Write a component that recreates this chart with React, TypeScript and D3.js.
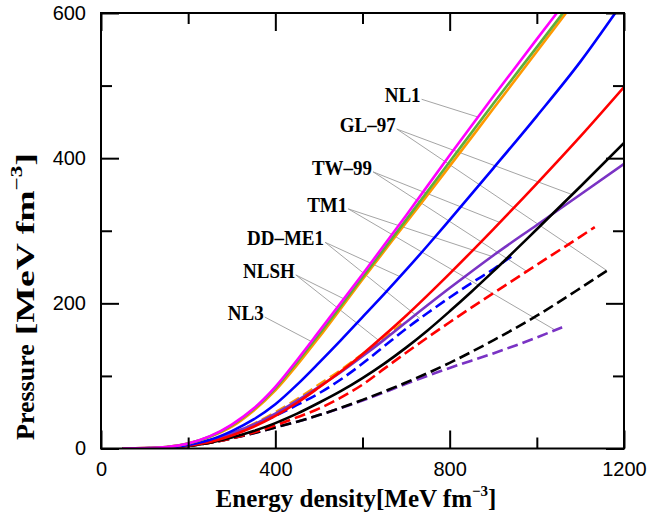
import React, { useEffect, useRef } from "react";
import * as d3 from "d3";

// ---- axis ticks ----
const xTicksMajor = [0, 400, 800, 1200];
const xTicksMinor = [200, 600, 1000];
const yTicksMajor = [0, 200, 400, 600];
const yTicksMinor = [100, 300, 500];

// ---- series (energy density, pressure) ----
const nl1E = [50, 100, 150, 200, 250, 300, 350, 400, 450, 500, 600, 700, 800, 900, 1000, 1046];
const nl1P = [0, 0.5, 2, 7, 17, 33, 55, 85, 122, 161, 240, 321, 404, 485, 564, 600];

const nl3E = [50, 100, 150, 200, 250, 300, 350, 400, 450, 500, 600, 700, 800, 900, 1000, 1060];
const nl3P = [0, 0.5, 2, 7, 16.5, 32, 54, 83, 119, 157, 236, 315, 395, 475, 553, 600];

const nlshE = [50, 100, 150, 200, 250, 300, 350, 400, 450, 500, 600, 700, 800, 900, 1000, 1067];
const nlshP = [0, 0.5, 2, 7, 16, 30, 52, 80, 115, 153, 233, 311, 389, 468, 547, 600];

const ddme1E = [50, 100, 150, 200, 250, 300, 350, 400, 450, 500, 550, 600, 650, 700, 750, 800, 900, 1000, 1100, 1180];
const ddme1P = [0, 0.3, 1.5, 5, 12, 24, 40, 61, 88, 118, 149, 181, 213, 246, 280, 315, 386, 458, 533, 600];

const tw99E = [50, 100, 150, 200, 250, 300, 350, 400, 450, 500, 550, 600, 650, 700, 800, 900, 1000, 1100, 1200];
const tw99P = [0, 0.2, 1, 4, 9, 18, 30, 45, 63, 84, 106, 130, 156, 183, 241, 302, 365, 430, 498];

const tm1E = [50, 100, 150, 200, 250, 300, 350, 400, 450, 500, 550, 600, 650, 700, 800, 900, 1000, 1100, 1200];
const tm1P = [0, 0.3, 1.5, 5, 11, 21, 33, 48, 66, 85, 105, 127, 150, 174, 221, 266, 308, 350, 392];

const gl97E = [50, 100, 150, 200, 250, 300, 350, 400, 450, 500, 550, 600, 650, 700, 750, 800, 850, 900, 1000, 1100, 1200];
const gl97P = [0, 0.2, 1, 3.5, 8, 15, 24, 35, 48, 63, 79, 97, 117, 139, 163, 189, 216, 244, 302, 361, 421];

// hyperon (dashed) branches
const ddme1hE = [50, 100, 150, 200, 250, 300, 350, 400, 450, 500, 550, 600, 650, 700, 750, 800, 850, 900, 945];
const ddme1hP = [0, 0.3, 1.5, 5, 11, 20, 31, 45, 60, 76, 95, 117, 141, 165, 187, 208, 228, 247, 266];

const tw99hE = [50, 100, 150, 200, 250, 300, 350, 400, 450, 500, 550, 600, 650, 700, 800, 900, 1000, 1100, 1133];
const tw99hP = [0, 0.2, 1, 4, 8, 14, 22, 32, 43, 55, 70, 88, 110, 132, 174, 214, 253, 292, 305];

const gl97hE = [50, 100, 150, 200, 250, 300, 350, 400, 450, 500, 600, 700, 800, 900, 1000, 1100, 1161];
const gl97hP = [0, 0.2, 1, 3.5, 8, 14, 21, 29, 37, 46, 67, 91, 118, 149, 183, 221, 245];

const tm1hE = [50, 100, 150, 200, 250, 300, 350, 400, 450, 500, 600, 700, 800, 900, 1000, 1058];
const tm1hP = [0, 0.2, 1, 3.5, 8, 14, 21, 29, 37, 46, 66, 89, 111, 131, 153, 167];

const nlshhE = [50, 100, 150, 200, 250, 300, 350, 400, 450, 500, 550, 600, 650, 690];
const nlshhP = [0, 0.3, 1.5, 5, 11, 21, 34, 50, 68, 88, 108, 130, 152, 172];

const seriesKeys = ["tm1h", "gl97h", "tw99h", "ddme1h", "nlshh", "tm1", "gl97", "tw99", "ddme1", "nlsh", "nl3", "nl1"];
const seriesE: Record<string, number[]> = {
  nl1: nl1E, nl3: nl3E, nlsh: nlshE, ddme1: ddme1E, tw99: tw99E, tm1: tm1E, gl97: gl97E,
  ddme1h: ddme1hE, tw99h: tw99hE, gl97h: gl97hE, tm1h: tm1hE, nlshh: nlshhE,
};
const seriesP: Record<string, number[]> = {
  nl1: nl1P, nl3: nl3P, nlsh: nlshP, ddme1: ddme1P, tw99: tw99P, tm1: tm1P, gl97: gl97P,
  ddme1h: ddme1hP, tw99h: tw99hP, gl97h: gl97hP, tm1h: tm1hP, nlshh: nlshhP,
};
const seriesColor: Record<string, string> = {
  nl1: "#ff00ff", nl3: "#5fae3a", nlsh: "#ff9900", ddme1: "#0000ff", tw99: "#ff0000", tm1: "#7a33c4", gl97: "#000000",
  ddme1h: "#0000ff", tw99h: "#ff0000", gl97h: "#000000", tm1h: "#7a33c4", nlshh: "#ff9900",
};
const seriesDashed: Record<string, boolean> = {
  nl1: false, nl3: false, nlsh: false, ddme1: false, tw99: false, tm1: false, gl97: false,
  ddme1h: true, tw99h: true, gl97h: true, tm1h: true, nlshh: true,
};

// ---- labels (anchored in data coordinates) ----
const labelNames = ["NL1", "GL–97", "TW–99", "TM1", "DD–ME1", "NLSH", "NL3"];
const labelE = [651, 548, 484, 473, 335, 326, 291];
const labelP = [477, 436, 377, 326, 280, 235, 177];

// leaders: label index -> series at energy
const leaderLabel = [0, 1, 1, 2, 2, 3, 3, 4, 4, 5, 5, 6];
const leaderSeries = ["nl1", "gl97", "gl97h", "tw99", "tw99h", "tm1", "tm1h", "ddme1", "ddme1h", "nlsh", "nlshh", "nl3"];
const leaderE = [865, 1081, 1161, 915, 977, 897, 1042, 686, 732, 564, 640, 486];

const W = 649;
const H = 516;

export default function App() {
  const ref = useRef<SVGSVGElement | null>(null);

  useEffect(() => {
    const svg = d3.select(ref.current);
    svg.selectAll("*").remove();

    const x = d3.scaleLinear().domain([0, 1200]).range([101, 624]);
    const y = d3.scaleLinear().domain([0, 600]).range([448.5, 13]);
    const [x0, x1] = x.range();
    const [y0, y1] = y.range();

    svg.append("defs").append("clipPath").attr("id", "plotclip")
      .append("rect").attr("x", x0).attr("y", y1).attr("width", x1 - x0).attr("height", y0 - y1);

    // labels first (measure for leader starts)
    const labelG = svg.append("g");
    const starts: [number, number][] = [];
    labelNames.forEach((name, i) => {
      const lx = x(labelE[i]);
      const ly = y(labelP[i]);
      const t = labelG.append("text")
        .attr("transform", `translate(${lx},${ly}) scale(1,1.15)`)
        .attr("font-family", "'Liberation Serif', 'Times New Roman', serif")
        .attr("font-weight", "bold")
        .attr("font-size", 19)
        .attr("fill", "#000")
        .text(name);
      const len = (t.node() as SVGTextElement).getComputedTextLength();
      starts.push([lx + len + 1, ly - 3]);
    });

    // leaders
    const leadG = svg.insert("g", ":first-child");
    leaderLabel.forEach((li, k) => {
      const key = leaderSeries[k];
      const interp = d3.scaleLinear().domain(seriesE[key]).range(seriesP[key]);
      const ex = x(leaderE[k]);
      const ey = y(interp(leaderE[k]));
      leadG.append("line")
        .attr("x1", starts[li][0]).attr("y1", starts[li][1])
        .attr("x2", ex).attr("y2", ey)
        .attr("stroke", "#9a9a9a").attr("stroke-width", 0.9);
    });

    // curves
    const curveG = svg.append("g").attr("clip-path", "url(#plotclip)");
    const line = d3.line<[number, number]>()
      .x((d) => x(d[0]))
      .y((d) => y(d[1]))
      .curve(d3.curveMonotoneX);
    seriesKeys.forEach((key) => {
      const pts: [number, number][] = seriesE[key].map((e, i) => [e, seriesP[key][i]]);
      curveG.append("path")
        .attr("d", line(pts) as string)
        .attr("fill", "none")
        .attr("stroke", seriesColor[key])
        .attr("stroke-width", 2.6)
        .attr("stroke-dasharray", seriesDashed[key] ? "11,5" : null);
    });

    // frame
    svg.append("rect")
      .attr("x", x0).attr("y", y1).attr("width", x1 - x0).attr("height", y0 - y1)
      .attr("fill", "none").attr("stroke", "#000").attr("stroke-width", 2);

    const tickFont = "'Liberation Sans', Arial, Helvetica, sans-serif";
    const styleAxis = (g: d3.Selection<SVGGElement, unknown, null, undefined>) => {
      g.select(".domain").remove();
      g.selectAll("line").attr("stroke", "#000").attr("stroke-width", 2);
      g.selectAll("text").attr("font-family", tickFont).attr("font-size", 20).attr("fill", "#000");
    };

    // bottom
    svg.append("g").attr("transform", `translate(0,${y0})`)
      .call(d3.axisBottom(x).tickValues(xTicksMajor).tickSize(-18).tickPadding(13.5).tickFormat(d3.format("d")))
      .call(styleAxis);
    svg.append("g").attr("transform", `translate(0,${y0})`)
      .call(d3.axisBottom(x).tickValues(xTicksMinor).tickSize(-11).tickFormat(() => ""))
      .call(styleAxis);
    // top
    svg.append("g").attr("transform", `translate(0,${y1})`)
      .call(d3.axisTop(x).tickValues(xTicksMajor).tickSize(-18).tickFormat(() => ""))
      .call(styleAxis);
    svg.append("g").attr("transform", `translate(0,${y1})`)
      .call(d3.axisTop(x).tickValues(xTicksMinor).tickSize(-11).tickFormat(() => ""))
      .call(styleAxis);
    // left
    svg.append("g").attr("transform", `translate(${x0},0)`)
      .call(d3.axisLeft(y).tickValues(yTicksMajor).tickSize(-18).tickPadding(15).tickFormat(d3.format("d")))
      .call(styleAxis);
    svg.append("g").attr("transform", `translate(${x0},0)`)
      .call(d3.axisLeft(y).tickValues(yTicksMinor).tickSize(-11).tickFormat(() => ""))
      .call(styleAxis);
    // right
    svg.append("g").attr("transform", `translate(${x1},0)`)
      .call(d3.axisRight(y).tickValues(yTicksMajor).tickSize(-18).tickFormat(() => ""))
      .call(styleAxis);
    svg.append("g").attr("transform", `translate(${x1},0)`)
      .call(d3.axisRight(y).tickValues(yTicksMinor).tickSize(-11).tickFormat(() => ""))
      .call(styleAxis);

    const titleFont = "'Liberation Serif', 'Times New Roman', serif";
    // x title
    const xt = svg.append("text")
      .attr("x", 356).attr("y", 507)
      .attr("text-anchor", "middle")
      .attr("font-family", titleFont).attr("font-weight", "bold").attr("font-size", 25).attr("fill", "#000");
    xt.append("tspan").text("Energy density[MeV fm");
    xt.append("tspan").attr("font-size", 15).attr("dy", -11).text("−3");
    xt.append("tspan").attr("dy", 11).text("]");

    // y title: "Pressure" then the (wider) unit part
    const yt1 = svg.append("text")
      .attr("transform", `translate(34,440) rotate(-90)`)
      .attr("text-anchor", "start")
      .attr("font-family", titleFont).attr("font-weight", "bold").attr("font-size", 26).attr("fill", "#000")
      .text("Pressure");
    const pLen = (yt1.node() as SVGTextElement).getComputedTextLength();
    const yt2 = svg.append("text")
      .attr("transform", `translate(34,${440 - pLen - 9}) rotate(-90) scale(1.45,1)`)
      .attr("text-anchor", "start")
      .attr("font-family", titleFont).attr("font-weight", "bold").attr("font-size", 26).attr("fill", "#000");
    yt2.append("tspan").text("[MeV fm");
    yt2.append("tspan").attr("font-size", 16).attr("dy", -12).text("−3");
    yt2.append("tspan").attr("dy", 12).text("]");
  }, []);

  return (
    <svg
      ref={ref}
      width={W}
      height={H}
      style={{ position: "absolute", left: 0, top: 0, background: "#fff" }}
    />
  );
}
